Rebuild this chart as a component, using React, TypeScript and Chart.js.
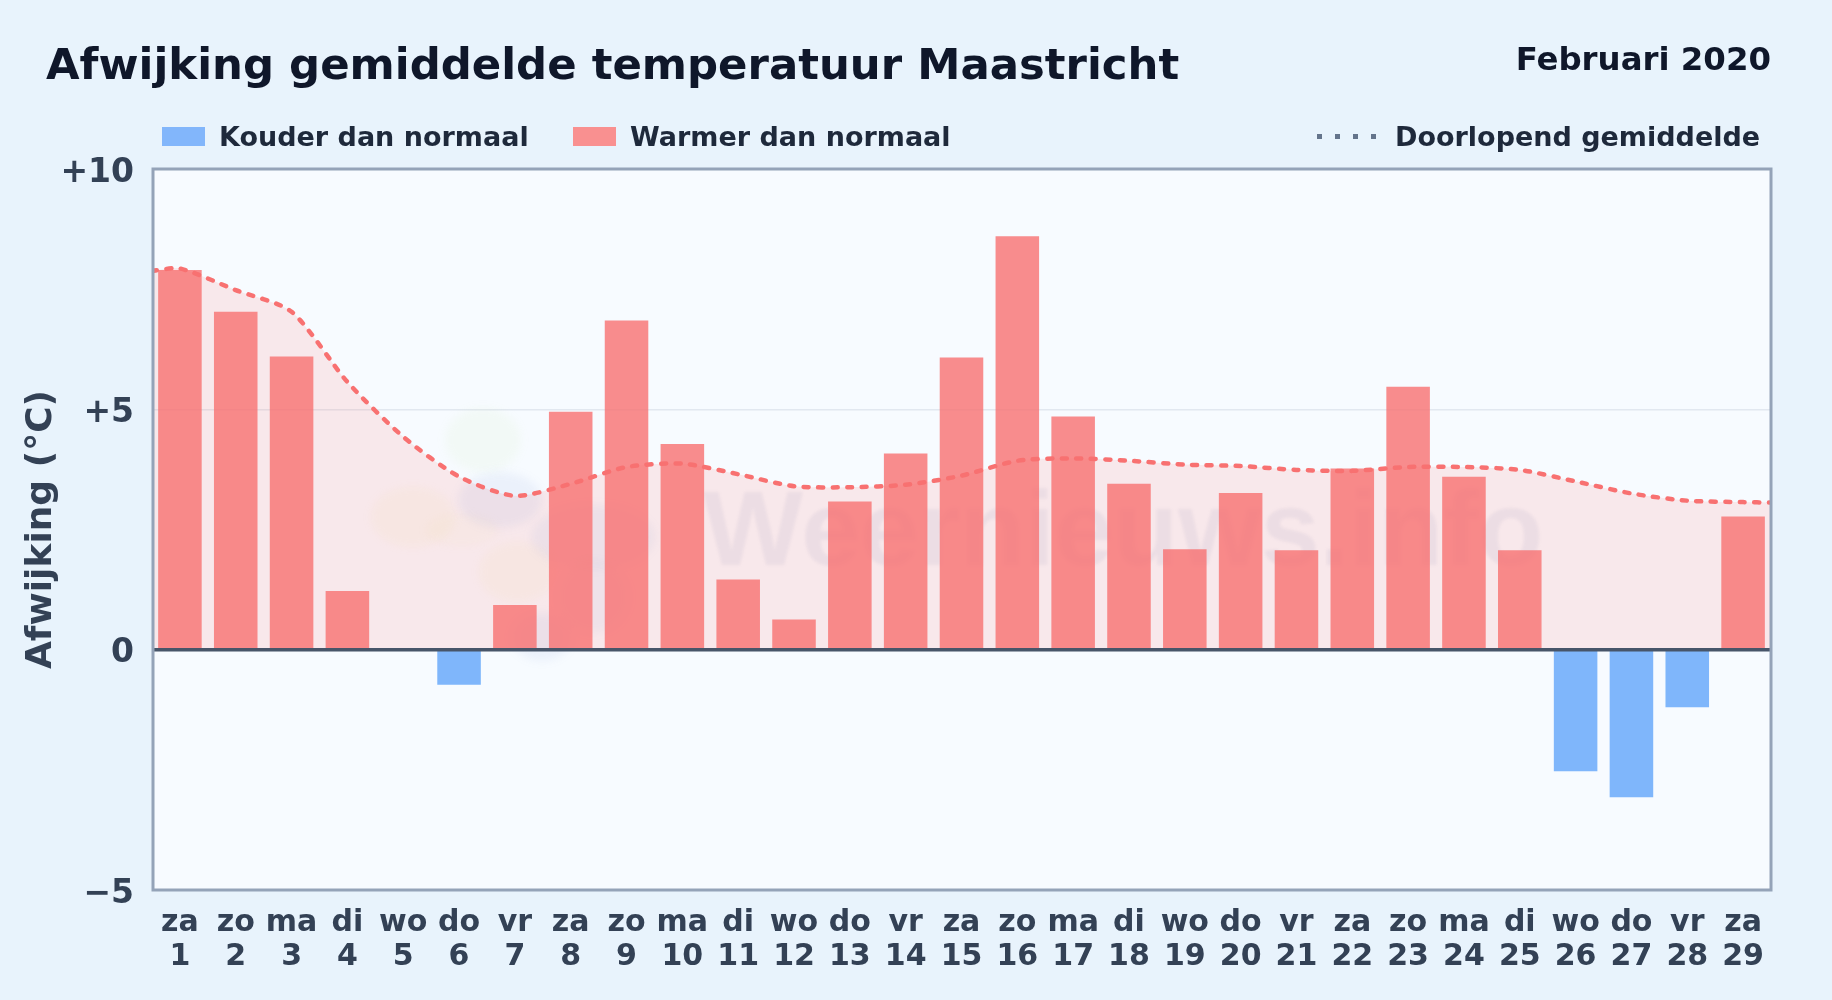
import React, { useEffect, useRef } from "react";
import { Chart, registerables } from "chart.js";

Chart.register(...registerables);

const weekdays = ["za","zo","ma","di","wo","do","vr","za","zo","ma","di","wo","do","vr","za","zo","ma","di","wo","do","vr","za","zo","ma","di","wo","do","vr","za"];
const days = ["1","2","3","4","5","6","7","8","9","10","11","12","13","14","15","16","17","18","19","20","21","22","23","24","25","26","27","28","29"];
const deviations = [7.9,7.03,6.1,1.22,0,-0.73,0.93,4.95,6.85,4.28,1.46,0.63,3.08,4.08,6.08,8.6,4.85,3.45,2.09,3.26,2.07,3.77,5.47,3.6,2.07,-2.53,-3.07,-1.2,2.77];
const runningPositions = [0.5,1,2,3,4,5,6,7,8,9,10,11,12,13,14,15,16,17,18,19,20,21,22,23,24,25,26,27,28,29,29.5];
const runningMean = [7.88,7.93,7.48,7.03,5.57,4.43,3.6,3.2,3.45,3.8,3.87,3.65,3.4,3.38,3.43,3.62,3.93,3.98,3.93,3.85,3.82,3.74,3.72,3.8,3.8,3.74,3.5,3.25,3.1,3.07,3.06];
const yTicks = [10,5,0,-5];

const FONT = "'DejaVu Sans', sans-serif";
const COLD = "rgba(96,165,250,0.8)";
const WARM = "rgba(248,113,113,0.8)";
const FRAME_LEFT = 153;

const frame = {
  id: "frame",
  beforeDatasetsDraw(chart: any) {
    const { ctx, chartArea: a } = chart;
    ctx.save();
    ctx.beginPath();
    ctx.rect(a.left, a.top, a.width, a.height);
    ctx.clip();
    ctx.filter = "blur(4px)";
    const blobs: [number, number, number, number, string][] = [
      [483, 440, 38, 32, "rgba(190,230,130,0.07)"],
      [413, 517, 42, 30, "rgba(245,215,130,0.08)"],
      [462, 530, 36, 16, "rgba(245,215,130,0.06)"],
      [517, 572, 38, 30, "rgba(245,215,130,0.08)"],
      [500, 500, 42, 28, "rgba(100,130,200,0.08)"],
      [593, 537, 62, 32, "rgba(100,130,200,0.07)"],
      [593, 597, 36, 36, "rgba(100,130,200,0.06)"],
      [542, 637, 30, 24, "rgba(100,130,200,0.08)"],
    ];
    blobs.forEach(([x, y, rx, ry, c]) => {
      ctx.fillStyle = c;
      ctx.beginPath();
      ctx.ellipse(x, y, rx, ry, 0, 0, Math.PI * 2);
      ctx.fill();
    });
    ctx.filter = "blur(1.5px)";
    ctx.fillStyle = "rgba(90,100,150,0.075)";
    ctx.font = `bold 106px 'Liberation Sans', sans-serif`;
    ctx.textBaseline = "alphabetic";
    ctx.textAlign = "left";
    ctx.fillText("Weernieuws.info", 703, 565);
    ctx.restore();
  },
  afterDatasetsDraw(chart: any) {
    const { ctx, chartArea: a, scales } = chart;
    const zero = scales.y.getPixelForValue(0);
    ctx.save();
    ctx.strokeStyle = "#475569";
    ctx.lineWidth = 3.5;
    ctx.beginPath();
    ctx.moveTo(FRAME_LEFT, zero);
    ctx.lineTo(a.right, zero);
    ctx.stroke();
    ctx.strokeStyle = "#94a3b8";
    ctx.lineWidth = 3;
    ctx.strokeRect(FRAME_LEFT, a.top, a.right - FRAME_LEFT, a.height);
    ctx.restore();
  },
  beforeDraw(chart: any) {
    const { ctx, chartArea: a } = chart;
    ctx.save();
    ctx.fillStyle = "#f7fbff";
    ctx.fillRect(FRAME_LEFT, a.top, a.right - FRAME_LEFT, a.height);
    ctx.restore();
  },
};

const textStyle: React.CSSProperties = {
  position: "absolute",
  fontFamily: FONT,
  fontWeight: 700,
  whiteSpace: "nowrap",
  lineHeight: 1,
};

function Swatch({ left, color }: { left: number; color: string }) {
  return <div style={{ position: "absolute", left, top: 127, width: 43, height: 19, background: color }} />;
}

export default function App() {
  const ref = useRef<HTMLCanvasElement>(null);
  useEffect(() => {
    const chart = new Chart(ref.current as HTMLCanvasElement, {
      type: "bar",
      data: {
        labels: days.map((d, i) => [weekdays[i], d]),
        datasets: [
          {
            type: "line",
            data: runningPositions.map((x, i) => ({ x, y: runningMean[i] })),
            xAxisID: "xLine",
            borderColor: "rgba(248,113,113,1)",
            borderWidth: 4.5,
            borderDash: [5, 9.5],
            borderCapStyle: "round",
            pointRadius: 0,
            tension: 0.25,
            fill: "origin",
            backgroundColor: "rgba(255,110,100,0.13)",
            order: 0,
          },
          {
            type: "bar",
            data: deviations,
            xAxisID: "x",
            backgroundColor: deviations.map((v) => (v < 0 ? COLD : WARM)),
            categoryPercentage: 1,
            barPercentage: 0.78,
            grouped: false,
            order: 1,
          },
        ],
      } as any,
      options: {
        animation: false,
        responsive: false,
        layout: { padding: { top: 169, right: 61, left: 0, bottom: 0 } },
        plugins: {
          legend: { display: false },
          tooltip: { enabled: false },
          filler: { drawTime: "beforeDatasetsDraw" },
        } as any,
        scales: {
          x: {
            type: "category",
            offset: true,
            grid: { display: false },
            border: { display: false },
            ticks: { color: "#334155", font: { family: FONT, weight: "bold", size: 30, lineHeight: 1.13 }, maxRotation: 0, autoSkip: false, padding: 8 },
            afterFit: (s: any) => { s.height = 110; },
          },
          xLine: { type: "linear", display: false, offset: false, min: 0.5, max: 29.5 },
          y: {
            min: -5,
            max: 10,
            afterBuildTicks: (s: any) => { s.ticks = yTicks.map((value) => ({ value })); },
            grid: { color: (c: any) => (c.tick.value === 5 ? "#e2e8f0" : "rgba(0,0,0,0)"), lineWidth: 1.5, drawTicks: false },
            border: { display: false },
            ticks: {
              color: "#334155",
              font: { family: FONT, weight: "bold", size: 33 },
              padding: 18,
              labelOffset: 4,
              callback: (v: any) => (v > 0 ? `+${v}` : v < 0 ? `\u2212${Math.abs(v)}` : "0"),
            },
            title: { display: true, text: "Afwijking (°C)", color: "#334155", font: { family: FONT, weight: "bold", size: 36 }, padding: { top: 20, bottom: 0 } },
            afterFit: (s: any) => { s.width = 152; },
          },
        },
      } as any,
      plugins: [frame],
    });
    return () => chart.destroy();
  }, []);

  return (
    <div style={{ position: "fixed", left: 0, top: 0, width: 1832, height: 1000, background: "#e8f3fc", overflow: "hidden" }}>
      <canvas ref={ref} width={1832} height={1000} style={{ position: "absolute", left: 0, top: 0, width: 1832, height: 1000 }} />
      <div style={{ ...textStyle, left: 46, top: 43, fontSize: 43.4, color: "#0f172a" }}>Afwijking gemiddelde temperatuur Maastricht</div>
      <div style={{ ...textStyle, right: 61, top: 43, fontSize: 32.4, color: "#0f172a" }}>Februari 2020</div>
      <Swatch left={162} color="#82b6fb" />
      <div style={{ ...textStyle, left: 219, top: 123, fontSize: 27, color: "#1e293b" }}>Kouder dan normaal</div>
      <Swatch left={573} color="#f99090" />
      <div style={{ ...textStyle, left: 630, top: 123, fontSize: 27, color: "#1e293b" }}>Warmer dan normaal</div>
      {[0, 1, 2, 3].map((i) => (
        <div key={i} style={{ position: "absolute", left: 1317 + i * 18, top: 134, width: 5, height: 5, background: "#64748b" }} />
      ))}
      <div style={{ ...textStyle, left: 1395, top: 123, fontSize: 27, color: "#1e293b" }}>Doorlopend gemiddelde</div>
    </div>
  );
}
